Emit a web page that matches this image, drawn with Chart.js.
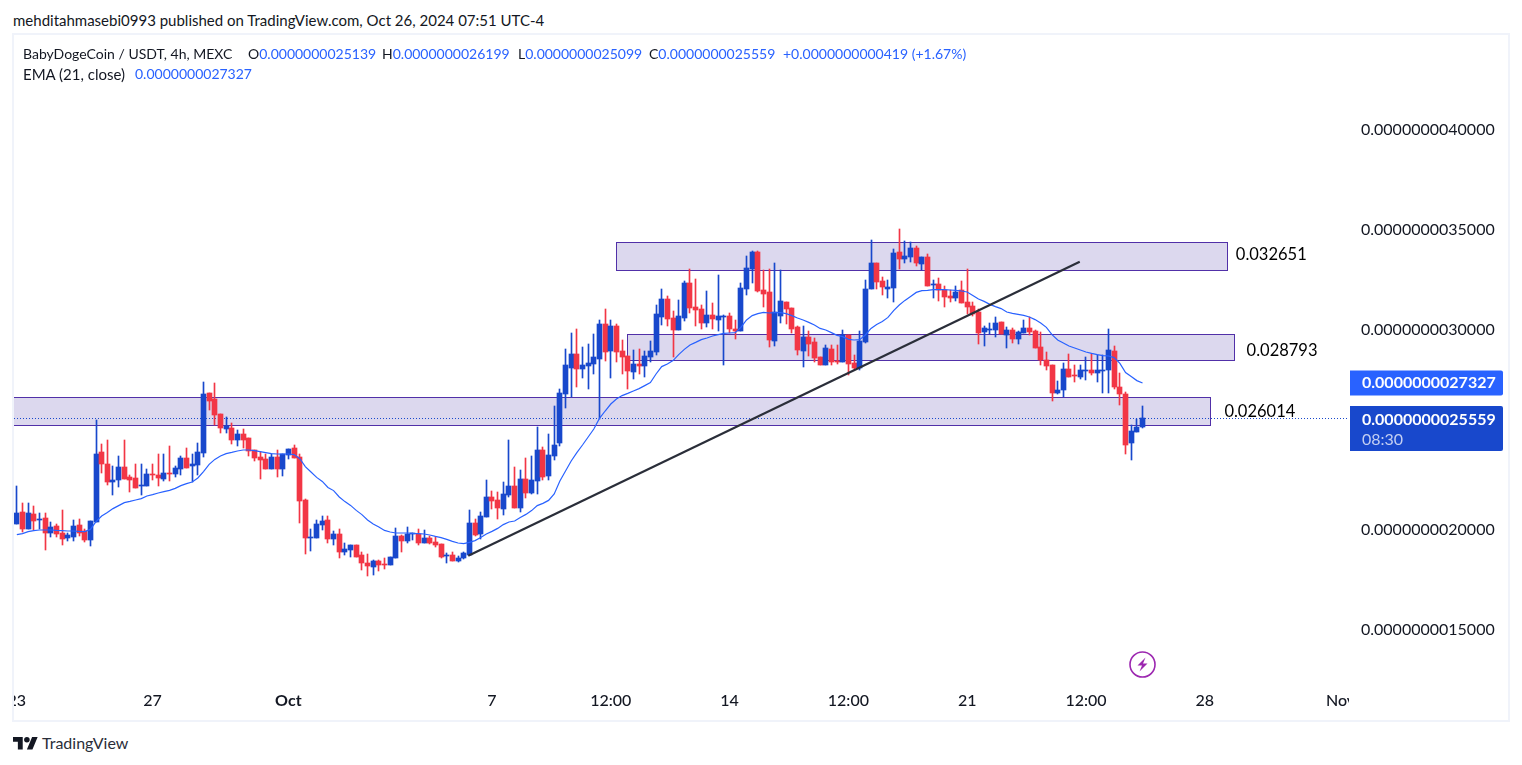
<!DOCTYPE html>
<html><head><meta charset="utf-8">
<style>
html,body{margin:0;padding:0;background:#fff;width:1522px;height:765px;overflow:hidden;font-family:Lato,sans-serif;color:#131722}
.abs{position:absolute;white-space:pre;line-height:20px;font-size:14px}
.b{color:#2962ff}
#frame{position:absolute;left:12px;top:33px;width:1498px;height:689px;border:2px solid #f0f3fa;box-sizing:border-box}
canvas{position:absolute;left:14px;top:35px}
</style>
<script src="https://cdn.jsdelivr.net/npm/chart.js@4/dist/chart.umd.min.js"></script>
</head><body>
<div class="abs" style="left:13px;top:10px;font-size:15px">mehditahmasebi0993 published on TradingView.com, Oct 26, 2024 07:51 UTC-4</div>
<div id="frame"></div>
<canvas id="c" width="1494" height="685"></canvas>
<div class="abs" style="left:23px;top:44px">BabyDogeCoin / USDT, 4h, MEXC</div>
<div class="abs" style="left:248px;top:44px">O<span class="b">0.0000000025139</span></div>
<div class="abs" style="left:382px;top:44px">H<span class="b">0.0000000026199</span></div>
<div class="abs" style="left:518px;top:44px">L<span class="b">0.0000000025099</span></div>
<div class="abs" style="left:649px;top:44px">C<span class="b">0.0000000025559</span></div>
<div class="abs b" style="left:783px;top:44px">+0.0000000000419 (+1.67%)</div>
<div class="abs" style="left:23px;top:64px;font-size:15px">EMA (21, close)</div>
<div class="abs b" style="left:135px;top:64px">0.0000000027327</div>
<svg style="position:absolute;left:13px;top:734px" width="25" height="17" viewBox="0 0 36 24"><path fill="#131722" d="M14 22H7V11H0V4h14v18zM28 22h-8l7.5-18h8L28 22z"/><circle fill="#131722" cx="20" cy="8" r="4"/></svg>
<div class="abs" style="left:42px;top:733px;font-size:16px;color:#2a2e39">TradingView</div>
<svg style="position:absolute;left:1129px;top:651px" width="27" height="27" viewBox="0 0 27 27"><circle cx="13.5" cy="13.5" r="12.500" fill="#fff" stroke="#9c27b0" stroke-width="1.6"/><path d="M16.500 6.500 8.500 14.500h4.500l-2.500 6 8-8h-4.500z" fill="#9c27b0"/></svg>
<script>
// prices in units of 1e-13
const opens=[20280,20880,20030,20780,20480,20580,19830,20180,19830,19580,
19630,20230,19930,19480,20380,23880,23280,22380,22480,23130,
22630,22580,22180,22180,22780,22730,22530,22830,22780,23030,
23580,23180,23230,23830,26830,26530,25780,25030,25080,24480,
24780,24580,23980,23630,23530,23030,23630,23030,23730,24080,
23630,21480,19580,19580,20230,20480,19530,19780,18880,18980,
19230,18730,18330,18130,18430,18280,18230,18580,19680,19430,
19780,19780,19330,19580,19380,19280,18700,18730,18430,18580,
18730,20330,19780,20630,21630,21480,21030,21730,22180,21080,
22530,21830,22430,23980,22680,23680,24330,26780,28080,28780,
28030,28180,28280,28530,30280,28930,30180,28930,28680,27880,
28280,28180,28630,28880,30630,31530,30580,29980,30580,32330,
31130,31030,30330,30730,30480,30650,30680,30030,29930,32030,
33030,33880,31980,31880,29430,30680,31380,31080,30130,28930,
29630,29380,28630,28230,29030,28430,28380,29730,28330,28080,
29380,32030,33330,32430,32030,32080,33880,33530,33630,34080,
33280,33630,32230,32280,31980,31680,31580,31980,31380,31180,
30880,29880,29980,29980,30380,29730,29980,29530,29830,30080,
29930,29130,28480,28230,26830,26980,28030,27730,27630,27930,
27980,27830,27930,27980,28930,27130,26780,24330,24880,25139];
const highs=[22180,21330,21330,21180,20830,20830,20380,20280,20980,19830,
20480,20530,20030,20430,25480,24280,24480,23180,23680,24480,
22730,23280,23280,23030,23280,23780,23780,24180,23180,23680,
24080,23780,24330,27380,26830,27330,25780,25630,25330,24980,
25030,24580,23980,23880,23780,23780,23980,23780,24030,24230,
23780,21530,20030,20480,20680,20680,19930,20030,19330,19230,
19230,18880,18780,18480,18480,18580,18630,20080,19730,20130,
19830,20030,19980,19680,19630,19280,18830,18880,18680,18880,
20980,20530,20880,22480,21930,21880,22380,24480,23130,22980,
23580,23680,25130,24130,24780,26180,27030,29030,29830,30030,
29130,29280,29780,30480,31030,30480,30280,29480,28680,28980,
29030,28930,29430,31230,32030,31680,30930,31480,32430,33030,
32530,31230,31930,31330,32730,30730,30830,30480,32330,33680,
33930,33930,32980,33030,33330,32980,31380,31080,30180,30180,
29930,29580,28630,29230,29230,29230,29980,29730,28730,29930,
32480,34480,33330,32630,32480,34030,35030,34430,34380,34180,
33630,33780,32480,32580,32180,31980,32180,32430,33030,31380,
31030,30180,30330,30630,30380,30130,30080,29930,30480,30630,
29980,29880,28880,28230,27430,28330,28780,28230,28230,28630,
28780,28730,28730,30030,29180,27830,26880,25230,25530,26199];
const lows=[20280,19880,20030,19980,20030,18980,19630,19630,19230,19430,
19430,19680,19380,19180,20380,22830,22230,21730,22130,22530,
21880,22080,21730,22180,22480,22180,22430,22430,22630,22730,
23080,22380,22730,23630,25980,25230,24830,24830,24280,24180,
24080,23680,23430,22530,23030,23030,22630,22680,23530,23580,
20330,18780,18930,19580,19980,19330,19230,18580,18730,18630,
18630,17980,17680,17730,17930,18030,18230,18580,18880,19330,
19480,19230,19330,19280,19130,18580,18330,18430,18380,18530,
18730,19680,19530,20630,21030,20530,20730,21630,21080,20880,
21580,21780,21780,22480,22480,23480,24180,26080,26630,27130,
27580,27030,27780,25530,28430,27580,28380,27780,27030,27530,
27780,27630,28380,28730,30230,30180,28630,29980,30430,30830,
30180,30030,30130,30030,29930,28230,29830,29530,29930,31730,
32330,31880,31130,29130,29180,30330,30280,29830,28730,28130,
28680,28380,28230,28230,28230,28280,28380,27730,27980,27980,
29330,32030,32030,31730,31580,31380,33030,33330,33380,33180,
32980,32180,31580,31430,31130,31380,31430,31330,30780,30680,
29280,29180,29780,29630,29780,29080,29330,29280,29830,29730,
29080,28230,27980,26430,26780,26630,27630,27380,27530,27480,
27730,27380,26830,26830,27030,26230,23780,23480,24880,25099];
const closes=[20830,20030,20830,20430,20530,19830,20130,19780,19530,19730,
20180,19830,19480,20430,23780,23280,22380,22480,23130,22530,
22480,22080,22230,22780,22730,22580,22830,22780,23080,23580,
23080,23280,23880,26780,26430,25730,25080,25180,24480,24780,
24480,23930,23580,23480,23030,23630,23030,23780,24030,23580,
21430,19580,19630,20280,20430,19530,19780,18880,19030,19230,
18630,18330,18180,18430,18230,18230,18630,19680,19430,19780,
19830,19330,19580,19330,19230,18630,18750,18430,18580,18830,
20330,19730,20680,21630,21430,21080,21780,22180,21080,22530,
21830,22480,23980,22630,23730,24230,26830,28230,28780,28030,
28230,28330,28630,30280,28880,30180,28880,28630,27930,28280,
28180,28680,28930,30780,31530,30530,29980,30680,32330,31080,
30980,30330,30730,30530,30680,30680,30030,29930,32080,33080,
33880,31930,31780,29480,30880,31430,31030,30030,28980,29630,
29280,28580,28230,29080,28380,28380,29730,28280,28080,29430,
32030,33330,32380,32130,32130,33830,33530,33680,34080,33330,
33630,32180,32280,31980,31630,31580,31880,31330,31130,30780,
29830,30080,30030,30330,29780,29980,29530,29880,30080,29880,
29080,28480,28180,26830,26980,28030,27630,27680,27980,27980,
27830,27980,27980,28980,27130,26780,24230,24930,25130,25559];
const ema=[19750,19800,19900,19950,19980,19980,19980,19960,19950,19930,
19930,19910,19900,20010,20400,20680,20850,21050,21200,21350,
21410,21480,21550,21680,21750,21830,21900,21960,22060,22200,
22300,22380,22580,22900,23260,23510,23680,23800,23860,23930,
23980,23980,23950,23900,23850,23800,23780,23780,23780,23750,
23560,23150,22880,22610,22410,22110,21950,21630,21400,21210,
20960,20750,20480,20280,20130,19960,19880,19830,19830,19830,
19810,19800,19780,19730,19660,19600,19510,19410,19330,19300,
19360,19450,19600,19780,19910,20060,20250,20380,20430,20610,
20760,20950,21200,21310,21460,21780,22430,22930,23430,23850,
24230,24630,25030,25560,25930,26280,26530,26700,26810,26930,
27050,27200,27350,27780,28150,28280,28450,28750,29010,29230,
29360,29500,29580,29680,29750,29810,29830,29850,30110,30480,
30700,30800,30860,30830,30850,30850,30800,30700,30580,30480,
30360,30230,30060,29980,29850,29710,29650,29510,29480,29500,
29730,30060,30250,30410,30610,30950,31230,31460,31660,31860,
31950,31960,32000,32000,32000,31980,31960,31930,31880,31710,
31530,31410,31260,31150,31050,30880,30810,30760,30710,30630,
30500,30330,30110,29750,29480,29330,29180,29080,28980,28880,
28810,28750,28700,28680,28600,28310,27850,27650,27450,27327];
const priceTicks=[15000,20000,30000,35000,40000];
const timeTickIndex=[0,24,48,84,105,126,147,168,189,210,234];
const timeTickText=['23','27','Oct','7','12:00','14','12:00','21','12:00','28','Nov'];
const slotCount=236;
const zoneStart=[105.97,107.9,-1];
const zoneEnd=[213.9,215.1,211];
const zoneTop=[34365,29765,26615];
const zoneBottom=[32965,28505,25255];
const zoneText=['0.032651','0.028793','0.026014'];
const zoneTextY=[33760,28930,25900];
const zoneTextGap=[9,13,14];
const trendIdx=[79.8,187.9];
const trendVal=[18695,33395];
const lastPrice=25559, lastEma=27327, countdown='08:30';

const UP='#1848cc',DOWN='#f23645';
const fmt=v=>(v/1e13).toFixed(13);
const labels=Array.from({length:slotCount},(_, i)=>{const k=timeTickIndex.indexOf(i);return k<0?'':timeTickText[k];});
const colors=opens.map((o,i)=>closes[i]>=o?UP:DOWN);
const FONT='Lato, sans-serif';

const marks={id:'marks',
 beforeDatasetsDraw(ch){
  const {ctx,scales:{x,y},chartArea:a}=ch;
  ctx.save();
  zoneStart.forEach((s,i)=>{
   const l=Math.round(x.getPixelForValue(s))+.5,r=Math.round(x.getPixelForValue(zoneEnd[i]))+.5;
   const t=Math.round(y.getPixelForValue(zoneTop[i]))+.5,b=Math.round(y.getPixelForValue(zoneBottom[i]))+.5;
   ctx.fillStyle='#dcd8ee';ctx.fillRect(l,t,r-l,b-t);
   ctx.strokeStyle='#5130a8';ctx.lineWidth=1;ctx.strokeRect(l,t,r-l,b-t);
  });
  const py=Math.round(y.getPixelForValue(lastPrice))+.5;
  ctx.strokeStyle=UP;ctx.lineWidth=1;ctx.setLineDash([1,2]);
  ctx.beginPath();ctx.moveTo(a.left,py);ctx.lineTo(a.right,py);ctx.stroke();
  ctx.restore();
  // snap the library's bars to whole pixels, as the reference has crisp candles
  ch.getSortedVisibleDatasetMetas().forEach(m=>{
   if(m.type!=='bar')return;
   m.data.forEach(el=>{
    el.x=Math.floor(el.x)+.5;
    const t=Math.round(Math.min(el.y,el.base));let b=Math.round(Math.max(el.y,el.base));
    if(b<=t)b=t+1;
    el.y=t;el.base=b;el.height=b-t;
   });
  });
 },
 afterDatasetsDraw(ch){
  const {ctx,scales:{x,y},chartArea:a}=ch;
  ctx.save();
  ctx.strokeStyle='#2a2e39';ctx.lineWidth=2.2;
  ctx.beginPath();ctx.moveTo(x.getPixelForValue(trendIdx[0]),y.getPixelForValue(trendVal[0]));
  ctx.lineTo(x.getPixelForValue(trendIdx[1]),y.getPixelForValue(trendVal[1]));ctx.stroke();
  ctx.fillStyle='#000';ctx.font='16.5px '+FONT;ctx.textBaseline='middle';ctx.textAlign='left';
  zoneText.forEach((t,i)=>{
   ctx.fillText(t,x.getPixelForValue(zoneEnd[i])+zoneTextGap[i],y.getPixelForValue(zoneTextY[i]));
  });
  ctx.restore();
 },
 afterDraw(ch){
  const {ctx,scales:{y},chartArea:a}=ch;
  ctx.save();
  ctx.clearRect(a.right,a.bottom,ch.width-a.right,ch.height-a.bottom);
  const tag=(top,h,bg)=>{ctx.fillStyle=bg;ctx.beginPath();ctx.roundRect(a.right+1,top,153,h,[0,2,2,0]);ctx.fill();};
  ctx.textBaseline='middle';ctx.textAlign='left';
  const ey=y.getPixelForValue(lastEma),py=y.getPixelForValue(lastPrice);
  tag(ey-12.5,25,'#2962ff');
  tag(py-12.5,45,UP);
  ctx.font='bold 16px '+FONT;ctx.fillStyle='#fff';
  ctx.fillText(fmt(lastEma),a.right+13,ey);
  ctx.fillText(fmt(lastPrice),a.right+13,py+1);
  ctx.font='16px '+FONT;ctx.fillStyle='#c3cff2';
  ctx.fillText(countdown,a.right+13,py+21);
  ctx.restore();
 }};

new Chart(document.getElementById('c'),{
 data:{labels,datasets:[
  {type:'line',data:ema,borderColor:'#2962ff',borderWidth:1.2,pointRadius:0,tension:0,order:0},
  {type:'bar',data:opens.map((o,i)=>[o,closes[i]]),backgroundColor:colors,barThickness:5,grouped:false,borderWidth:0,borderSkipped:false,order:1},
  {type:'bar',data:lows.map((l,i)=>[l,highs[i]]),backgroundColor:colors,barThickness:1,grouped:false,borderWidth:0,borderSkipped:false,order:2}
 ]},
 options:{responsive:false,animation:false,events:[],devicePixelRatio:1,
  layout:{padding:0,autoPadding:false},
  plugins:{legend:{display:false},tooltip:{enabled:false}},
  scales:{
   x:{type:'category',offset:true,grid:{display:false,drawTicks:false},border:{display:false},
      afterFit(s){s.height=35;s.paddingLeft=s.paddingRight=0;},
      ticks:{autoSkip:false,maxRotation:0,minRotation:0,padding:6,color:'#131722',
        font:c=>({family:FONT,size:16,weight:c.tick&&c.tick.label==='Oct'?'bold':'500'})}},
   y:{type:'linear',position:'right',min:12230,max:44730,grid:{display:false,drawTicks:false},border:{display:false},
      afterFit(s){s.width=159;s.paddingTop=s.paddingBottom=0;},
      afterBuildTicks(s){s.ticks=priceTicks.map(v=>({value:v}));},
      ticks:{autoSkip:false,padding:12,color:'#131722',font:{family:FONT,size:16},callback:fmt}}
  }},
 plugins:[marks]
});
</script>
</body></html>
